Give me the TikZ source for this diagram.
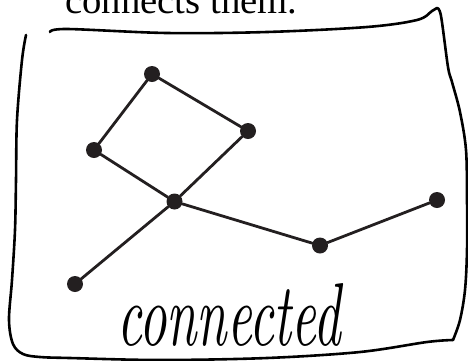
\documentclass[tikz,border=0pt]{standalone}
\usepackage{fontspec}
\newfontfamily\timesfont{Liberation Serif}
\definecolor{ink}{HTML}{231F20}
\begin{document}
\begin{tikzpicture}[x=1pt,y=-1pt,
  dot/.style={circle,fill=ink,draw=none,minimum size=16pt,inner sep=0pt},
  edge/.style={draw=ink,line width=2.8pt,line cap=round},
  frame/.style={draw=black,line width=2.6pt,line cap=round,line join=round}]
\useasboundingbox (0,0) rectangle (468,360);
\clip (0,0) rectangle (468,360);
% caption text cut at top
\node[anchor=base west,inner sep=0pt] (cap) at (65,13)
  {\timesfont\fontsize{38.7pt}{44pt}\selectfont connects them.};
% hand-drawn frame
\draw[frame] plot[smooth,tension=0.55] coordinates {(26,35) (22,60) (17,120) (16,180) (15,230) (12,280) (9,320) (13,344) (23,354) (40,357) (70,358) (160,360) (267,358) (360,352) (427,342) (453,340)};
\draw[frame] plot[smooth,tension=0.55] coordinates {(453,340) (460,320) (465,290) (467,250) (467,200) (466,150) (460,112) (452,82) (448,67) (441,16) (437,8)};
\draw[frame] plot[smooth,tension=0.55] coordinates {(437,8) (432,11) (417,20) (367,27) (267,32) (167,33) (67,29) (50,32)};
% graph
\node[dot] (A) at (152,74) {};
\node[dot] (B) at (248,131) {};
\node[dot] (C) at (94,150) {};
\node[dot] (D) at (174.5,201.5) {};
\node[dot] (E) at (320,245.5) {};
\node[dot] (F) at (437,200) {};
\node[dot] (G) at (75,284) {};
\draw[edge] (A) -- (B);
\draw[edge] (A) -- (C);
\draw[edge] (C) -- (D);
\draw[edge] (B) -- (D);
\draw[edge] (D) -- (E);
\draw[edge] (E) -- (F);
\draw[edge] (D) -- (G);
% handwritten label
\node[anchor=base west,inner sep=0pt] (lbl) at (117,345)
  {\resizebox{224pt}{62pt}{\itshape connected}};
\end{tikzpicture}
\end{document}
